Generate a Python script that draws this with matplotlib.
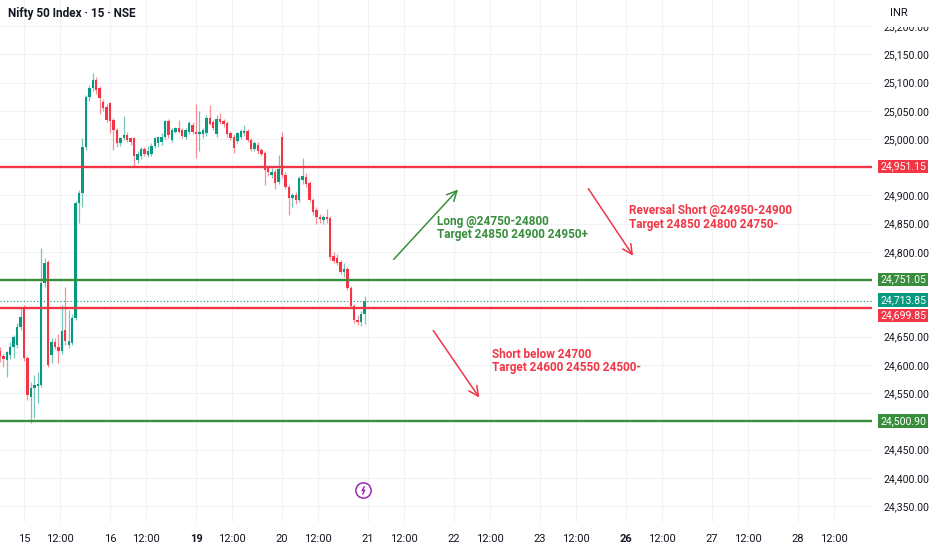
import matplotlib.pyplot as plt
import numpy as np
from matplotlib.patches import Rectangle
from matplotlib.path import Path

plt.rcParams['font.family'] = ['Roboto', 'DejaVu Sans']

# NIFTY 50, 15 min candles: last 7 bars of the 14th, then 15, 16, 19, 20
opens = [24625, 24615, 24608, 24617, 24632, 24636, 24667, 24702, 24612, 24543,
         24559, 24562, 24564, 24745, 24782, 24617, 24640, 24632, 24625, 24662,
         24635, 24639, 24683, 24887, 24904, 24986, 25074, 25090, 25104, 25090,
         25066, 25057, 25063, 25034, 25016, 24992, 25001, 25007, 25001, 25001,
         24963, 24969, 24982, 24972, 24974, 24988, 24992, 24995, 25004, 25031,
         24998, 25013, 25019, 25016, 25004, 25012, 25025, 25012, 25008, 25008,
         25010, 25038, 25030, 25008, 25036, 25032, 25028, 25010, 25004, 24996,
         25004, 25010, 25014, 24998, 24982, 24990, 24980, 24976, 24948, 24936,
         24942, 24924, 25003, 24936, 24915, 24895, 24900, 24892, 24928, 24932,
         24922, 24892, 24874, 24862, 24856, 24862, 24860, 24792, 24790, 24782,
         24764, 24770, 24736, 24704, 24680, 24676, 24690]
highs = [24632, 24620, 24625, 24640, 24652, 24674, 24702, 24706, 24616, 24570,
         24582, 24587, 24807, 24790, 24786, 24648, 24648, 24654, 24706, 24738,
         24697, 24690, 24890, 24910, 25002, 25078, 25095, 25117, 25110, 25094,
         25070, 25062, 25066, 25038, 25020, 25004, 25040, 25012, 25004, 25004,
         24978, 24986, 24986, 24988, 24992, 25004, 25004, 25010, 25034, 25036,
         25020, 25022, 25034, 25020, 25020, 25032, 25030, 25062, 25050, 25020,
         25042, 25060, 25034, 25042, 25046, 25036, 25032, 25014, 25008, 25012,
         25018, 25024, 25018, 25002, 24996, 24994, 24984, 24978, 24952, 24948,
         24946, 24972, 25012, 24942, 24918, 24905, 24906, 24934, 24966, 24940,
         24925, 24895, 24880, 24868, 24866, 24876, 24864, 24800, 24796, 24786,
         24780, 24774, 24740, 24708, 24688, 24695, 24722]
lows = [24605, 24596, 24578, 24610, 24612, 24630, 24662, 24606, 24538, 24497,
        24505, 24532, 24560, 24738, 24596, 24603, 24628, 24603, 24620, 24636,
        24630, 24636, 24680, 24851, 24880, 24980, 25068, 25085, 25080, 25045,
        25050, 25030, 25010, 24980, 24985, 24988, 24998, 24995, 24990, 24951,
        24958, 24965, 24970, 24968, 24970, 24984, 24985, 24990, 25000, 25002,
        24994, 25010, 25010, 25002, 25000, 25008, 25008, 24966, 24978, 25002,
        25006, 25024, 25016, 25004, 25026, 25022, 25004, 24998, 24976, 24992,
        25000, 25006, 24995, 24978, 24978, 24974, 24970, 24918, 24935, 24930,
        24912, 24920, 24930, 24912, 24865, 24880, 24885, 24888, 24920, 24915,
        24888, 24865, 24850, 24852, 24850, 24852, 24786, 24780, 24776, 24760,
        24756, 24732, 24700, 24674, 24670, 24668, 24672]
closes = [24615, 24610, 24622, 24632, 24649, 24667, 24685, 24612, 24547, 24559,
          24564, 24566, 24745, 24780, 24600, 24640, 24632, 24625, 24660, 24642,
          24642, 24683, 24887, 24904, 24986, 25074, 25090, 25104, 25087, 25072,
          25054, 25034, 25031, 25016, 24992, 25001, 25007, 24998, 24995, 24969,
          24974, 24982, 24974, 24978, 24988, 25001, 25003, 25004, 25031, 25007,
          25016, 25019, 25013, 25006, 25016, 25028, 25012, 25008, 25012, 25016,
          25038, 25026, 25020, 25036, 25030, 25026, 25008, 25002, 24984, 25010,
          25014, 25014, 24998, 24982, 24992, 24978, 24974, 24945, 24942, 24942,
          24922, 24946, 24936, 24915, 24895, 24900, 24892, 24930, 24934, 24920,
          24892, 24870, 24862, 24858, 24862, 24858, 24791, 24784, 24781, 24764,
          24770, 24736, 24704, 24679, 24676, 24690, 24713.85]

day_labels = ['15', '16', '19', '20', '21', '22', '23', '26', '27', '28']
week_starts = ['19', '26']
bars_per_day = 25
first_day_bar = 7

levels = [24951.15, 24751.05, 24699.85, 24500.90]
level_kind = ['resistance', 'support', 'resistance', 'support']
last_price = 24713.85

UP, DOWN = '#089981', '#f23645'
GREEN_LINE = '#388e3c'

W, H = 932, 550
fig = plt.figure(figsize=(W / 100, H / 100), dpi=100)
ax = fig.add_axes([0, 28 / H, 872 / W, 522 / H])

o = np.array(opens); h = np.array(highs); l = np.array(lows); c = np.array(closes)
x = np.arange(len(c))
col = np.where(c >= o, UP, DOWN)
ax.vlines(x, l, h, colors=col, lw=0.9, alpha=0.55, zorder=3)
body = np.maximum(np.abs(c - o), 1.2)
ax.bar(x, body, bottom=np.minimum(o, c), width=0.7, color=col, lw=0, zorder=4)


def price_tag(val, colour, dy=0):
    ax.annotate(f'{val:,.2f}', xy=(1, val), xycoords=('axes fraction', 'data'),
                xytext=(6, dy), textcoords='offset points', va='center', ha='left',
                fontsize=7.6, color='white', annotation_clip=False,
                bbox=dict(boxstyle='square,pad=0.18', fc=colour, ec='none'))


# horizontal levels
for lv, kind in zip(levels, level_kind):
    lc = DOWN if kind == 'resistance' else GREEN_LINE
    ax.axhline(lv, color=lc, lw=1.7, zorder=5)
    # keep the tag under the last price tag from overlapping it
    shift = -5 if abs(lv - last_price) < 20 else 0
    price_tag(lv, lc, shift)
ax.axhline(last_price, color=UP, lw=0.8, ls=(0, (1, 2)), zorder=2)
price_tag(last_price, UP, 0.5)

# trade notes
arrow = dict(arrowstyle='->,head_length=0.7,head_width=0.35', lw=1.1)
ax.annotate('', xy=(133.7, 24914), xytext=(113.9, 24783),
            arrowprops=dict(arrow, color=GREEN_LINE), zorder=6)
ax.text(127.1, 24842, 'Long @24750-24800\nTarget 24850 24900 24950+', color=GREEN_LINE,
        fontsize=8.5, fontweight='semibold', va='center', ha='left', linespacing=1.05)
ax.annotate('', xy=(184.5, 24789), xytext=(170.6, 24916),
            arrowprops=dict(arrow, color=DOWN), zorder=6)
ax.text(183.0, 24861, 'Reversal Short @24950-24900\nTarget 24850 24800 24750-', color=DOWN,
        fontsize=8.5, fontweight='semibold', va='center', ha='left', linespacing=1.05)
ax.annotate('', xy=(139.8, 24538), xytext=(125.5, 24665),
            arrowprops=dict(arrow, color=DOWN), zorder=6)
ax.text(143.1, 24607, 'Short below 24700\nTarget 24600 24550 24500-', color=DOWN,
        fontsize=8.5, fontweight='semibold', va='center', ha='left', linespacing=1.05)

# x axis: day and midday ticks
day_pos = [first_day_bar + bars_per_day * k for k in range(len(day_labels))]
noon_pos = [p + 10.5 for p in day_pos]
ticks = sorted(day_pos + noon_pos)
ax.set_xticks(ticks)
labels = []
for t in ticks:
    labels.append(day_labels[day_pos.index(t)] if t in day_pos else '12:00')
ax.set_xticklabels(labels)
for tl in ax.get_xticklabels():
    if tl.get_text() in week_starts:
        tl.set_fontweight('bold')
ax.set_xlim(0.02, 253.5)

# price scale; the tags hide the round numbers next to them
ax.set_ylim(24321.7, 25246.1)
yt = np.arange(24350, 25201, 50)
ax.set_yticks(yt, minor=True)
tags = levels + [last_price]
ax.set_yticks([v for v in yt if min(abs(v - t) for t in tags) > 15])
ax.yaxis.set_major_formatter(plt.FuncFormatter(lambda v, p: f'{v:,.2f}'))
ax.yaxis.tick_right()
ax.tick_params(axis='y', which='both', length=0, pad=8.5, labelsize=7.6, labelcolor='#131722')
ax.tick_params(axis='x', length=0, pad=9, labelsize=8, labelcolor='#131722')
ax.grid(True, which='both', color='#f0f2f5', lw=0.8, zorder=0)
ax.set_axisbelow(True)
for s in ax.spines.values():
    s.set_visible(False)

# event marker below the last bar
bolt = Path([(0.25, 1.0), (-0.35, -0.05), (0.3, 0.1), (-0.25, -1.0)],
            [Path.MOVETO, Path.LINETO, Path.LINETO, Path.LINETO])
ax.plot([105.5], [24378], marker='o', ms=11, mfc='white', mec='#9c27b0', mew=1.1, zorder=7)
ax.plot([105.5], [24378], marker=bolt, ms=6, mfc='none', mec='#9c27b0', mew=1.0, zorder=8)

fig.patches.append(Rectangle((872 / W, 1 - 27 / H), 60 / W, 27 / H, transform=fig.transFigure,
                             fc='white', ec='none', zorder=5))
fig.text(8 / W, 1 - 13 / H, 'Nifty 50 Index \u00b7 15 \u00b7 NSE', fontsize=8.5,
         fontweight='semibold', color='#131722', va='center', ha='left', zorder=6)
fig.text(890 / W, 1 - 13 / H, 'INR', fontsize=8, color='#131722', va='center', ha='left', zorder=6)

plt.savefig('out.png', dpi=100)
